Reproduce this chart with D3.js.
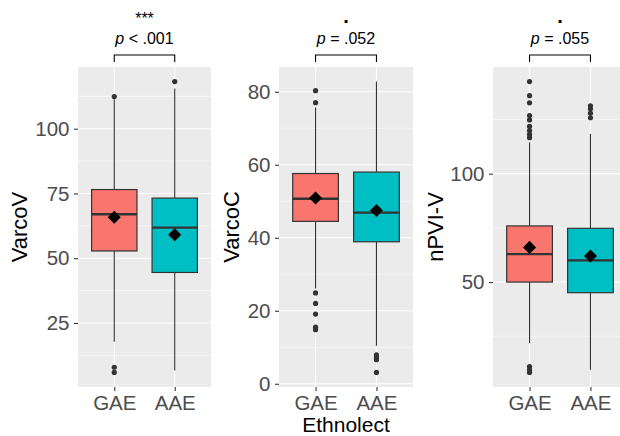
<!DOCTYPE html>
<html>
<head>
<meta charset="utf-8">
<script src="https://cdn.jsdelivr.net/npm/d3@7"></script>
<style>
  body { margin: 0; background: #fff; }
  svg { display: block; font-family: "Liberation Sans", Arial, sans-serif; }
</style>
</head>
<body>
<div id="chart"></div>
<script>
// groups on the x axis
const groups = ["GAE", "AAE"];
const groupFills = ["#F8766D", "#00BFC4"];

// box stats per group: [lower whisker, q1, median, q3, upper whisker]
const varcoVBox = [[17.8, 52.8, 67.0, 76.5, 111.4], [6.7, 44.5, 61.8, 73.2, 115.5]];
const varcoVMean = [65.8, 59.1];
const varcoVOut = [[112.4, 7.9, 5.9], [118.2]];
const varcoVTicks = [25, 50, 75, 100];

const varcoCBox = [[26.1, 44.5, 50.7, 57.6, 75.7], [10.4, 38.9, 46.9, 58.0, 82.8]];
const varcoCMean = [50.9, 47.5];
const varcoCOut = [[80.3, 77.0, 24.9, 22.0, 19.1, 15.5, 14.8], [7.9, 7.3, 6.6, 3.1]];
const varcoCTicks = [0, 20, 40, 60, 80];

const npviBox = [[21.8, 50.0, 62.9, 75.9, 114.5], [9.5, 45.1, 60.0, 74.8, 118.4]];
const npviMean = [66.0, 62.0];
const npviOut = [[142.5, 136.0, 132.7, 126.8, 124.8, 121.8, 119.9, 118.1, 116.6, 11.0, 9.6, 8.3],
                 [131.3, 129.9, 127.9, 125.8]];
const npviTicks = [50, 100];

// labels
const yTitles = ["VarcoV", "VarcoC", "nPVI-V"];
const sigStars = ["***", ".", "."];
const pTexts = [" < .001", " = .052", " = .055"];
const xTitle = "Ethnolect";

const W = 620, H = 436;
const plotTop = 67, plotBottom = 387;
const panelX = [[78, 211], [279, 413], [493, 627]];
const yTitleX = [19, 231, 435];

const panels = [
    { box: varcoVBox, mean: varcoVMean, out: varcoVOut, ticks: varcoVTicks },
    { box: varcoCBox, mean: varcoCMean, out: varcoCOut, ticks: varcoCTicks },
    { box: npviBox, mean: npviMean, out: npviOut, ticks: npviTicks }
];

const svg = d3.select("#chart").append("svg")
    .attr("width", W)
    .attr("height", H);

panels.forEach((p, i) => {
    const [x0, x1] = panelX[i];

    // ggplot style 5% expansion of the data range
    const all = p.box.flat().concat(p.out.flat());
    const [lo, hi] = d3.extent(all);
    const pad = (hi - lo) * 0.05;
    const y = d3.scaleLinear().domain([lo - pad, hi + pad]).range([plotBottom, plotTop]);
    const x = d3.scalePoint().domain(groups).range([x0, x1]).padding(0.6);
    const bw = x.step() * 0.75;

    const g = svg.append("g");

    // panel background
    g.append("rect")
        .attr("x", x0).attr("y", plotTop)
        .attr("width", x1 - x0).attr("height", plotBottom - plotTop)
        .attr("fill", "#EBEBEB");

    // minor grid lines (half way between majors)
    const step = p.ticks[1] - p.ticks[0];
    const minor = d3.range(p.ticks[0] - step / 2, p.ticks[p.ticks.length - 1] + step, step)
        .filter(v => v > y.domain()[0] && v < y.domain()[1]);
    g.selectAll(".minor").data(minor).join("line")
        .attr("x1", x0).attr("x2", x1)
        .attr("y1", d => y(d)).attr("y2", d => y(d))
        .attr("stroke", "#fff").attr("stroke-width", 0.55);

    // major grid lines
    g.selectAll(".major").data(p.ticks).join("line")
        .attr("x1", x0).attr("x2", x1)
        .attr("y1", d => y(d)).attr("y2", d => y(d))
        .attr("stroke", "#fff").attr("stroke-width", 1.1);
    g.selectAll(".vmajor").data(groups).join("line")
        .attr("x1", d => x(d)).attr("x2", d => x(d))
        .attr("y1", plotTop).attr("y2", plotBottom)
        .attr("stroke", "#fff").attr("stroke-width", 1.1);

    // axes
    const ya = g.append("g")
        .attr("transform", `translate(${x0},0)`)
        .call(d3.axisLeft(y).tickValues(p.ticks).tickSize(4).tickPadding(4.5));
    const xa = g.append("g")
        .attr("transform", `translate(0,${plotBottom})`)
        .call(d3.axisBottom(x).tickSize(4).tickPadding(4));
    [ya, xa].forEach(a => {
        a.select(".domain").remove();
        a.selectAll(".tick line").attr("stroke", "#333").attr("stroke-width", 1.07);
        a.selectAll(".tick text")
            .attr("fill", "#4D4D4D")
            .style("font-size", a === xa ? "20.5px" : "20.5px")
            .style("font-family", "'Liberation Sans', Arial, sans-serif");
    });

    // boxes
    groups.forEach((grp, k) => {
        const [wl, q1, med, q3, wh] = p.box[k];
        const cx = x(grp);
        const bg = g.append("g");
        bg.append("line")
            .attr("x1", cx).attr("x2", cx).attr("y1", y(q3)).attr("y2", y(wh))
            .attr("stroke", "#333").attr("stroke-width", 1.1);
        bg.append("line")
            .attr("x1", cx).attr("x2", cx).attr("y1", y(q1)).attr("y2", y(wl))
            .attr("stroke", "#333").attr("stroke-width", 1.1);
        bg.append("rect")
            .attr("x", cx - bw / 2).attr("y", y(q3))
            .attr("width", bw).attr("height", y(q1) - y(q3))
            .attr("fill", groupFills[k])
            .attr("stroke", "#333").attr("stroke-width", 1.2);
        bg.append("line")
            .attr("x1", cx - bw / 2).attr("x2", cx + bw / 2)
            .attr("y1", y(med)).attr("y2", y(med))
            .attr("stroke", "#333").attr("stroke-width", 2.4);
        bg.selectAll("circle").data(p.out[k]).join("circle")
            .attr("cx", cx).attr("cy", d => y(d)).attr("r", 2.6)
            .attr("fill", "#333");
        bg.append("path")
            .attr("d", d3.symbol(d3.symbolDiamond2, 108)())
            .attr("transform", `translate(${cx},${y(p.mean[k])})`)
            .attr("fill", "#000");
    });

    // significance bracket
    const bx0 = x(groups[0]), bx1 = x(groups[1]);
    svg.append("path")
        .attr("d", `M${bx0},62V55H${bx1}V62`)
        .attr("fill", "none").attr("stroke", "#000").attr("stroke-width", 1.1);
    const pt = svg.append("text")
        .attr("x", (bx0 + bx1) / 2).attr("y", 44)
        .attr("text-anchor", "middle")
        .style("font-size", "16px");
    pt.append("tspan").style("font-style", "italic").text("p");
    pt.append("tspan").text(pTexts[i]);
    svg.append("text")
        .attr("x", (bx0 + bx1) / 2).attr("y", i === 0 ? 24 : 22.5)
        .attr("text-anchor", "middle")
        .style("font-size", i === 0 ? "16px" : "20px")
        .style("font-weight", i === 0 ? "normal" : "bold")
        .text(sigStars[i]);

    // y title
    svg.append("text")
        .attr("transform", `translate(${yTitleX[i]},${(plotTop + plotBottom) / 2}) rotate(-90)`)
        .attr("text-anchor", "middle")
        .attr("dy", "0.35em")
        .style("font-size", "22px")
        .text(yTitles[i]);

    if (i === 1) {
        svg.append("text")
            .attr("x", (x0 + x1) / 2).attr("y", 432)
            .attr("text-anchor", "middle")
            .style("font-size", "21px")
            .text(xTitle);
    }
});
</script>
</body>
</html>
